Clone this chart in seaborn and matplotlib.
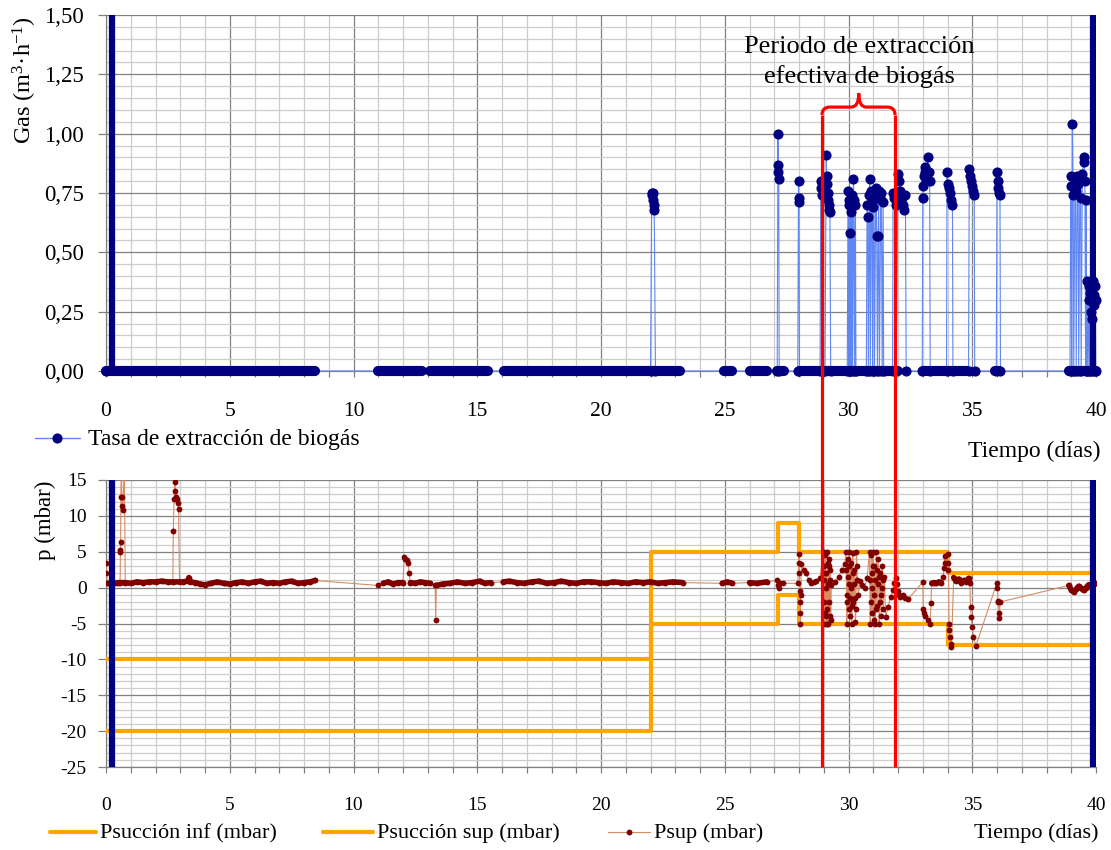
import numpy as np
import pandas as pd
import matplotlib
matplotlib.use("Agg")
import matplotlib.pyplot as plt
import seaborn as sns
from matplotlib.lines import Line2D
from matplotlib.path import Path
from matplotlib.patches import PathPatch
from matplotlib.ticker import MultipleLocator

# ---------------- DATA ----------------
# Top panel: biogas extraction rate (m3/h) vs time (days)
gas_zero_start = [0.00, 11.00, 13.10, 16.10, 24.95, 26.00, 27.10, 28.05, 33.00, 35.90, 38.90]
gas_zero_end   = [8.45, 12.75, 15.45, 23.20, 25.30, 26.70, 27.40, 32.00, 34.80, 36.10, 40.00]

gas_t = [0.00,
         22.00, 22.05, 22.07, 22.09, 22.11, 22.13, 22.15, 22.20,
         27.12, 27.15, 27.16, 27.17, 27.18, 27.20,
         27.95, 27.98, 27.99, 28.00, 28.02,
         28.85, 28.88, 28.90, 28.92, 28.95, 29.05, 29.10, 29.12, 29.14, 29.16, 29.18, 29.20, 29.22, 29.25, 29.28,
         29.95, 29.98, 30.00, 30.02, 30.04, 30.06, 30.08, 30.10, 30.12, 30.15, 30.17, 30.20, 30.22, 30.25, 30.28, 30.30,
         30.72, 30.75, 30.78, 30.80, 30.84, 30.86, 30.88, 30.92, 30.95, 30.97, 31.00, 31.03, 31.05, 31.10, 31.12, 31.14, 31.17, 31.20, 31.22, 31.25, 31.30, 31.33, 31.36, 31.40, 31.42,
         31.78, 31.80, 31.85, 31.90, 31.92, 32.00, 32.05, 32.10, 32.15, 32.20, 32.25, 32.30, 32.33,
         32.98, 33.00, 33.02, 33.05, 33.08, 33.10, 33.15, 33.20, 33.25, 33.28, 33.30,
         33.96, 33.98, 34.00, 34.05, 34.10, 34.15, 34.20, 34.22,
         34.85, 34.88, 34.92, 34.96, 35.00, 35.04, 35.08, 35.10,
         35.97, 36.00, 36.03, 36.06, 36.09, 36.12, 36.14,
         38.95, 38.98, 39.00, 39.02, 39.05, 39.08, 39.10, 39.15, 39.18, 39.20, 39.25, 39.28, 39.30, 39.35, 39.38, 39.40, 39.45, 39.50, 39.52, 39.55, 39.58, 39.60, 39.62,
         39.65, 39.68, 39.70, 39.72, 39.74, 39.76, 39.78, 39.80, 39.82, 39.84, 39.86, 39.88, 39.90, 39.92, 39.94, 39.96, 39.98, 40.00]
gas_v = [0.00,
         0, 0.75, 0.74, 0.75, 0.72, 0.70, 0.68, 0,
         0, 1.00, 0.87, 0.84, 0.81, 0,
         0, 0.80, 0.73, 0.71, 0,
         0, 0.80, 0.77, 0.74, 0, 0, 0.91, 0.82, 0.79, 0.75, 0.72, 0.70, 0.68, 0.67, 0,
         0, 0.76, 0.72, 0, 0.70, 0.58, 0, 0.67, 0, 0.74, 0, 0.81, 0.72, 0, 0.70, 0,
         0, 0.70, 0.65, 0, 0.74, 0.81, 0, 0.76, 0.72, 0, 0.69, 0.74, 0, 0.77, 0.73, 0.57, 0, 0.57, 0.76, 0, 0.72, 0.75, 0, 0.71, 0,
         0, 0.75, 0.73, 0.70, 0, 0.83, 0.80, 0.76, 0.73, 0.70, 0.68, 0.74, 0,
         0, 0.73, 0.78, 0.82, 0.86, 0.84, 0.80, 0.90, 0.84, 0.80, 0,
         0, 0.84, 0.79, 0.77, 0.75, 0.72, 0.70, 0,
         0, 0.85, 0.82, 0.80, 0.78, 0.76, 0.74, 0,
         0, 0.84, 0.80, 0.77, 0.75, 0.74, 0,
         0, 0.82, 0.78, 0, 1.04, 0.74, 0, 0.80, 0.76, 0, 0.82, 0.79, 0, 0.81, 0.73, 0, 0.83, 0.90, 0.88, 0.80, 0, 0.72, 0,
         0.38, 0, 0.36, 0.30, 0, 0.33, 0.25, 0, 0.35, 0.22, 0, 0.38, 0.32, 0.28, 0, 0.36, 0.30, 0]

gas_ticks = [0.00, 0.25, 0.50, 0.75, 1.00, 1.25, 1.50]
gas_tick_labels = ["0,00", "0,25", "0,50", "0,75", "1,00", "1,25", "1,50"]

# Bottom panel: suction set-points (step functions) and measured Psup (mbar)
suc_t   = [0.0, 22.0, 27.15, 28.0, 34.0, 40.0]
suc_inf = [-20, -5, -1, -5, -8, -8]
suc_sup = [-10, 5, 9, 5, 2, 2]

psup_t = [0.00, 0.02, 0.05, 0.20, 0.35, 0.50, 0.57,
          0.58, 0.585, 0.59, 0.60, 0.62, 0.64, 0.66, 0.68, 0.74, 0.78,
          1.00, 1.25, 1.50, 1.75, 2.00, 2.25, 2.50, 2.70,
          2.72, 2.75, 2.78, 2.80, 2.83, 2.86, 2.90, 2.93, 2.97,
          3.10, 3.30, 3.35, 3.40, 3.60, 3.80, 4.00, 4.25, 4.50, 4.75, 5.00,
          5.25, 5.50, 5.75, 6.00, 6.25, 6.50, 6.75, 7.00, 7.25, 7.50, 7.75, 8.00, 8.25, 8.45,
          11.00, 11.20, 11.40, 11.60, 11.80, 12.00,
          12.05, 12.10, 12.15, 12.20, 12.25,
          12.30, 12.50, 12.70, 12.90, 13.10, 13.30, 13.32, 13.35,
          13.60, 13.90, 14.20, 14.50, 14.80, 15.10, 15.30, 15.55,
          16.05, 16.30, 16.60, 16.90, 17.20, 17.50, 17.80, 18.10, 18.40, 18.70,
          19.00, 19.30, 19.60, 19.90, 20.20, 20.50, 20.80, 21.10, 21.40, 21.70,
          22.00, 22.30, 22.60, 22.90, 23.30,
          24.90, 25.10, 25.30, 26.00, 26.30, 26.70,
          27.10, 27.15, 27.20, 27.25, 27.35,
          27.95, 28.00, 28.005, 28.02, 28.03, 28.04, 28.05, 28.06, 28.07,
          28.10, 28.20, 28.30, 28.40, 28.50, 28.60, 28.70, 28.85,
          29.00, 29.01, 29.02, 29.03, 29.04, 29.05, 29.06, 29.07, 29.08, 29.10, 29.11, 29.12, 29.13,
          29.15, 29.16, 29.17, 29.18, 29.20, 29.21, 29.22, 29.24, 29.25, 29.27, 29.28, 29.30,
          29.45, 29.60, 29.75, 29.85,
          29.90, 29.91, 29.92, 29.93, 29.95, 29.96, 29.98, 30.00, 30.01, 30.03,
          30.04, 30.06, 30.07, 30.10, 30.11, 30.13, 30.15, 30.17, 30.18, 30.20,
          30.22, 30.24, 30.26, 30.28, 30.30, 30.32, 30.34, 30.36, 30.40, 30.45,
          30.55, 30.65, 30.75,
          30.85, 30.86, 30.88, 30.89, 30.92, 30.93, 30.95, 30.96, 30.98, 31.00,
          31.02, 31.03, 31.05, 31.06, 31.08, 31.10, 31.12, 31.14, 31.16, 31.18,
          31.20, 31.22, 31.24, 31.26, 31.28, 31.30, 31.32, 31.34, 31.36, 31.38, 31.40, 31.45,
          31.50, 31.60, 31.70, 31.80, 31.85, 31.90, 31.95, 32.00, 32.05, 32.10, 32.20, 32.30, 32.40,
          33.00, 33.02, 33.05, 33.10, 33.20, 33.30, 33.33, 33.36, 33.45, 33.55, 33.65, 33.75, 33.82, 33.86, 33.88, 33.90,
          34.00, 34.02, 34.04, 34.06, 34.08, 34.10, 34.13, 34.16,
          34.25, 34.35, 34.45, 34.55, 34.65, 34.75, 34.85, 34.90,
          34.93, 34.96, 35.00, 35.05, 35.15,
          36.00, 36.02, 36.04, 36.06, 36.08, 36.10, 36.12,
          38.90, 39.00, 39.10, 39.20, 39.30, 39.40, 39.50, 39.60, 39.70, 39.80, 39.90, 40.00]
psup_v = [3.5, 2.1, 0.6, 0.5, 0.6, 0.7, 0.7,
          5.0, 5.3, 6.4, 12.7, 17.0, 12.7, 11.4, 10.8, 17.0, 0.7,
          0.6, 0.8, 0.7, 0.8, 0.8, 0.9, 0.8, 0.8,
          7.9, 12.4, 14.7, 13.5, 12.6, 12.3, 11.8, 11.0, 0.8,
          0.8, 0.9, 1.4, 0.8, 0.7, 0.5, 0.4, 0.6, 0.8, 0.6, 0.5,
          0.7, 0.8, 0.6, 0.8, 0.9, 0.6, 0.7, 0.6, 0.8, 0.9, 0.6, 0.7, 0.8, 1.0,
          0.3, 0.6, 0.8, 0.5, 0.7, 0.7,
          4.3, 4.0, 3.8, 3.5, 2.0,
          0.7, 0.6, 0.8, 0.7, 0.6, 0.3, -4.5, 0.3,
          0.5, 0.6, 0.8, 0.6, 0.7, 0.9, 0.6, 0.7,
          0.8, 0.9, 0.7, 0.6, 0.8, 0.9, 0.6, 0.7, 0.9, 0.7,
          0.6, 0.8, 0.8, 0.7, 0.6, 0.8, 0.7, 0.6, 0.8, 0.7,
          0.8, 0.6, 0.7, 0.8, 0.7,
          0.6, 0.8, 0.6, 0.7, 0.6, 0.8,
          1.0, 0.4, -0.1, 0.7, 0.6,
          0.6, 4.7, 3.5, 2.0, -0.5, -2.0, -3.5, -5.0, -1.0,
          3.3, 2.5, 2.0, 1.0, 0.7, 0.8, 0.9, 1.4,
          5.0, 3.0, 1.0, -2.0, -5.0, -3.5, 4.5, 2.0, -4.0, 2.0, 0.0, -3.0, -5.0,
          5.0, 3.5, 0.5, -5.0, 3.0, 4.0, -2.0, -4.0, 1.0, 2.5, -4.5, 0.3,
          0.8, 1.5, 2.5, 3.3,
          5.0, 2.5, -1.0, -5.0, -2.0, 4.0, 1.5, -3.0, 0.5, 5.0,
          3.0, -4.0, -1.5, 3.5, 0.0, -5.0, -2.5, 4.8, 2.0, -2.0,
          0.5, 2.5, -1.5, -4.8, -3.0, 5.0, 3.0, 1.0, -1.0, 0.9,
          0.3, 0.0, 1.3,
          5.0, 1.0, -5.0, -2.0, 4.5, 2.0, -3.5, 0.0, 5.0, 3.0,
          -4.5, -1.0, 3.0, 1.0, -5.0, -3.0, 5.0, 2.5, -2.5, 0.5,
          4.0, 1.5, -5.0, -2.0, 2.0, -1.0, -4.0, 0.0, 3.0, 1.0, -3.0, 1.5,
          -4.1, -2.7, -1.3, -0.3, 0.6, 1.4, 0.5, -0.5, -1.0, -1.3, -1.0, -1.4, -1.6,
          0.75, -3.0, -3.6, -4.0, -4.5, -5.0, -2.2, 0.6, 0.7, 0.6, 0.8, 0.7, 1.5, 2.7, 4.4, 3.5,
          4.7, 3.5, 2.5, -5.0, -5.9, -6.9, -7.9, -8.3,
          1.4, 0.9, 1.2, 0.7, 1.0, 0.8, 1.3, 0.7,
          -2.7, -4.1, -5.5, -6.9, -8.1,
          0.7, 0.0, -1.8, -2.0, -3.6, -4.3, -2.0,
          0.3, -0.3, -0.6, -0.2, 0.2, -0.1, -0.4, 0.0, 0.4, 0.1, 0.5, 0.7]

# stretches where Psup was logged densely (appear as a thick dotted band)
psup_dense_start = [0.05, 11.20, 12.30, 13.35, 16.05, 24.90, 26.00, 33.36, 34.25, 38.90]
psup_dense_end   = [8.45, 12.00, 13.10, 15.55, 23.30, 25.30, 26.70, 33.75, 34.90, 40.00]

limit_days = [0.24, 39.88]          # thick navy vertical markers
period_start, period_end = 28.93, 31.88   # effective extraction period

assert len(gas_t) == len(gas_v) and len(psup_t) == len(psup_v)

# ---------------- STYLE ----------------
sns.set_theme(style="white")
plt.rcParams['font.family'] = ['Liberation Serif', 'DejaVu Serif']
plt.rcParams['mathtext.fontset'] = 'custom'
plt.rcParams['mathtext.rm'] = 'Liberation Serif'
plt.rcParams['mathtext.it'] = 'Liberation Serif:italic'
plt.rcParams['mathtext.bf'] = 'Liberation Serif:bold'
plt.rcParams['axes.unicode_minus'] = False

NAVY = '#000080'
LBLUE = '#5f86f2'
ORANGE = '#FFA500'
MAROON = '#800000'
TAN = '#d98b63'
RED = '#FF0000'
GMAJ = '#808080'
GMIN = '#cccccc'

W, H = 1111, 850
fig = plt.figure(figsize=(W / 100, H / 100), dpi=100)
fig.patch.set_facecolor('white')


def fx(px):
    return px / W


def fy(py):
    return 1 - py / H


ax1 = fig.add_axes([fx(106), fy(371), fx(1096) - fx(106), fy(15) - fy(371)])
ax2 = fig.add_axes([fx(106), fy(767), fx(1096) - fx(106), fy(480) - fy(767)])


def style(ax, ymaj, ymin, xfs, yfs, xpad, ypad):
    ax.set_xlim(0, 40)
    ax.xaxis.set_major_locator(MultipleLocator(5))
    ax.xaxis.set_minor_locator(MultipleLocator(1))
    ax.yaxis.set_major_locator(MultipleLocator(ymaj))
    ax.yaxis.set_minor_locator(MultipleLocator(ymin))
    ax.grid(which='major', color=GMAJ, lw=0.9)
    ax.grid(which='minor', color=GMIN, lw=0.9)
    ax.set_axisbelow(True)
    ax.set_facecolor('white')
    for s in ['top', 'right']:
        ax.spines[s].set_visible(False)
    for s in ['left', 'bottom']:
        ax.spines[s].set_color(GMAJ)
        ax.spines[s].set_linewidth(0.9)
    ax.tick_params(axis='x', which='both', bottom=True, direction='out', length=4.5,
                   width=0.9, color=GMAJ, pad=xpad, labelsize=xfs, labelcolor='black')
    ax.tick_params(axis='y', which='major', left=True, direction='out', length=5.8,
                   width=0.9, color=GMAJ, pad=ypad, labelsize=yfs, labelcolor='black')
    ax.tick_params(axis='y', which='minor', left=False)
    ax.set_xlabel('')
    ax.set_ylabel('')


# ---------------- TOP PANEL ----------------
style(ax1, 0.25, 0.05, 15.5, 16.5, 17.5, 10.0)
ax1.set_ylim(0, 1.5)
ax1.set_yticks(gas_ticks)
ax1.set_yticklabels(gas_tick_labels)

gas_df = pd.DataFrame({'t': gas_t, 'v': gas_v})
sns.lineplot(data=gas_df, x='t', y='v', ax=ax1, estimator=None, sort=False,
             color=LBLUE, lw=0.8, marker='o', markersize=7.3,
             markerfacecolor=NAVY, markeredgecolor=NAVY, markeredgewidth=0,
             clip_on=False, zorder=3)
for a, b in zip(gas_zero_start, gas_zero_end):
    ax1.plot([a, b], [0, 0], color=NAVY, lw=7.3, solid_capstyle='round',
             clip_on=False, zorder=4)
for d in limit_days:
    ax1.axvline(d, color=NAVY, lw=4.5, zorder=5)
ax1.set_xlabel('')
ax1.set_ylabel('')

# ---------------- BOTTOM PANEL ----------------
style(ax2, 5, 1, 14, 14, 17, 8)
ax2.set_ylim(-25, 15)
ax2.set_yticks(list(range(-25, 16, 5)))

sns.lineplot(x=suc_t, y=suc_inf, ax=ax2, estimator=None, sort=False,
             drawstyle='steps-post', color=ORANGE, lw=3.0, zorder=3)
sns.lineplot(x=suc_t, y=suc_sup, ax=ax2, estimator=None, sort=False,
             drawstyle='steps-post', color=ORANGE, lw=3.0, zorder=3)

psup_df = pd.DataFrame({'t': psup_t, 'v': psup_v})
sns.lineplot(data=psup_df, x='t', y='v', ax=ax2, estimator=None, sort=False,
             color=TAN, lw=0.8, marker='o', markersize=4.2,
             markerfacecolor=MAROON, markeredgecolor=MAROON, markeredgewidth=0,
             zorder=4)
for a, b in zip(psup_dense_start, psup_dense_end):
    sel = psup_df[(psup_df.t >= a) & (psup_df.t <= b) & (psup_df.v.abs() < 1.6)]
    ax2.plot(sel.t, sel.v, color=MAROON, lw=4.0, solid_capstyle='round',
             solid_joinstyle='round', zorder=4)
for d in limit_days:
    ax2.axvline(d, color=NAVY, lw=4.5, zorder=5)
ax2.set_xlabel('')
ax2.set_ylabel('')

# ---------------- RED PERIOD MARK ----------------
fig.canvas.draw()


def to_fig(ax, x, y):
    return fig.transFigure.inverted().transform(ax.transData.transform((x, y)))


brace_y0, brace_y1, brace_peak = 1.079, 1.112, 1.170
for xd in (period_start, period_end):
    p_top = to_fig(ax1, xd, brace_y0)
    p_bot = to_fig(ax2, xd, -25)
    fig.add_artist(Line2D([p_top[0], p_bot[0]], [p_top[1], p_bot[1]],
                          transform=fig.transFigure, color=RED, lw=2.3,
                          solid_capstyle='butt', zorder=10))
mid = (period_start + period_end) / 2 + 0.01
verts = [(period_start, brace_y0),
         (period_start, brace_y1), (period_start + 0.32, brace_y1),
         (mid - 0.3, brace_y1),
         (mid, brace_y1), (mid, brace_peak),
         (mid, brace_y1), (mid + 0.3, brace_y1),
         (period_end - 0.32, brace_y1),
         (period_end, brace_y1), (period_end, brace_y0)]
codes = [Path.MOVETO, Path.CURVE3, Path.CURVE3, Path.LINETO,
         Path.CURVE3, Path.CURVE3, Path.CURVE3, Path.CURVE3,
         Path.LINETO, Path.CURVE3, Path.CURVE3]
ax1.add_patch(PathPatch(Path(verts, codes), facecolor='none', edgecolor=RED,
                        lw=2.3, zorder=10, clip_on=False))

# ---------------- TEXTS ----------------
fig.text(fx(859), fy(52.7), "Periodo de extracción", ha='center', va='baseline',
         fontsize=19, color='black')
fig.text(fx(859), fy(83.3), "efectiva de biogás", ha='center', va='baseline',
         fontsize=19, color='black')

fig.text(fx(25), fy(80), r"Gas (m$^{3}$·h$^{-1}$)", rotation=90, ha='center',
         va='center', fontsize=17.5, color='black')
fig.text(fx(45), fy(520), "p (mbar)", rotation=90, ha='center', va='center',
         fontsize=16.5, color='black')

fig.text(fx(1100), fy(457), "Tiempo (días)", ha='right', va='baseline',
         fontsize=17, color='black')
fig.text(fx(1098), fy(838), "Tiempo (días)", ha='right', va='baseline',
         fontsize=16, color='black')

# top legend
fig.add_artist(Line2D([fx(35), fx(80)], [fy(438), fy(438)], transform=fig.transFigure,
                      color=LBLUE, lw=1.0))
fig.add_artist(Line2D([fx(57)], [fy(438)], transform=fig.transFigure, marker='o',
                      markersize=7.3, markerfacecolor=NAVY, markeredgecolor=NAVY,
                      markeredgewidth=0, linestyle='none'))
fig.text(fx(88), fy(445), "Tasa de extracción de biogás", ha='left', va='baseline',
         fontsize=17, color='black')

# bottom legend
leg_y = 832
fig.add_artist(Line2D([fx(50), fx(96)], [fy(leg_y), fy(leg_y)], transform=fig.transFigure,
                      color=ORANGE, lw=3.0))
fig.text(fx(100), fy(leg_y + 6), "Psucción inf (mbar)", ha='left', va='baseline',
         fontsize=16, color='black')
fig.add_artist(Line2D([fx(323), fx(373)], [fy(leg_y), fy(leg_y)], transform=fig.transFigure,
                      color=ORANGE, lw=3.0))
fig.text(fx(377), fy(leg_y + 6), "Psucción sup (mbar)", ha='left', va='baseline',
         fontsize=16, color='black')
fig.add_artist(Line2D([fx(608), fx(650)], [fy(leg_y), fy(leg_y)], transform=fig.transFigure,
                      color=TAN, lw=0.8))
fig.add_artist(Line2D([fx(629)], [fy(leg_y)], transform=fig.transFigure, marker='o',
                      markersize=4.2, markerfacecolor=MAROON, markeredgecolor=MAROON,
                      markeredgewidth=0, linestyle='none'))
fig.text(fx(654), fy(leg_y + 6), "Psup (mbar)", ha='left', va='baseline',
         fontsize=16, color='black')

fig.savefig("out.png", dpi=100, facecolor='white')
